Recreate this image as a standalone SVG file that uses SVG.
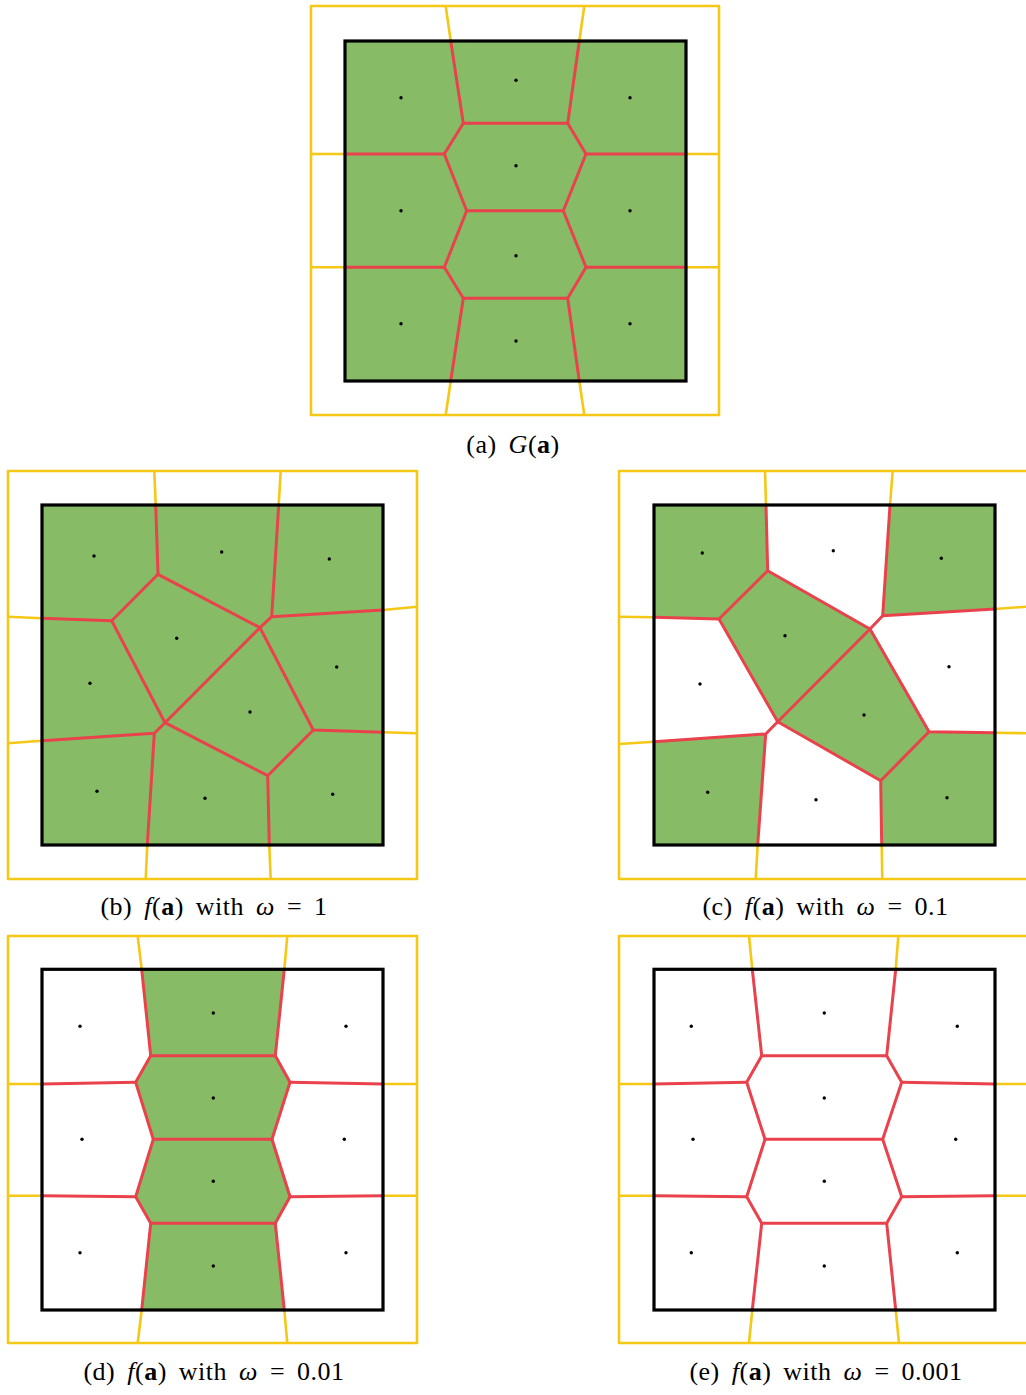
<svg xmlns="http://www.w3.org/2000/svg" width="1026" height="1395" viewBox="0 0 1026 1395">
<style>
.bg{fill:#ffffff}
.y{fill:none;stroke:#F5C816;stroke-width:2.6;stroke-linejoin:round}
.r{fill:none;stroke:#E9424C;stroke-width:3;stroke-linejoin:round;stroke-linecap:round}
.g{fill:#87BB66;stroke:none}
.k{fill:none;stroke:#000000;stroke-width:3.2}
.d{fill:#000000}
.cap{font-family:"Liberation Serif","DejaVu Serif",serif;font-size:26px;fill:#000000;text-anchor:middle;letter-spacing:0.5px;word-spacing:5px}
.it{font-style:italic}
.bf{font-weight:bold}
</style>
<defs>
<circle id="dot" r="1.7" class="d"/>
</defs>
<rect class="bg" x="0" y="0" width="1026" height="1395"/>

<!-- Panel (a) -->
<g id="panel-a">
  <rect class="g" x="345" y="41" width="341" height="340"/>
  <g id="a-boundary" class="y">
    <rect x="311" y="6" width="408" height="409"/>
    <path d="M445.7,6 L450.7,41 M584.3,6 L579.3,41 M311,154 L345,154 M686,154 L719,154 M311,267.3 L345,267.3 M686,267.3 L719,267.3 M450.7,381 L445.7,415 M579.3,381 L584.3,415"/>
  </g>
  <g id="a-edges" class="r">
    <path d="M450.7,41 L463.3,123.3 L567.7,123.3 L579.3,41"/>
    <path d="M463.3,123.3 L444.3,154 L466.7,210.7 L563.3,210.7 L586,154 L567.7,123.3"/>
    <path d="M345,154 L444.3,154 M586,154 L686,154"/>
    <path d="M466.7,210.7 L444.3,267.3 L463.3,298.3 L567.7,298.3 L586,267.3 L563.3,210.7"/>
    <path d="M345,267.3 L444.3,267.3 M586,267.3 L686,267.3"/>
    <path d="M463.3,298.3 L450.7,381 M567.7,298.3 L579.3,381"/>
  </g>
  <rect class="k" x="345" y="41" width="341" height="340"/>
  <g id="a-points">
    <use href="#dot" x="401" y="97.7"/><use href="#dot" x="516" y="80.3"/><use href="#dot" x="630" y="97.7"/>
    <use href="#dot" x="401" y="210.7"/><use href="#dot" x="516" y="165.7"/><use href="#dot" x="630" y="210.7"/>
    <use href="#dot" x="516" y="255.7"/>
    <use href="#dot" x="401" y="323.7"/><use href="#dot" x="516" y="341"/><use href="#dot" x="630" y="323.7"/>
  </g>
  <text class="cap" x="513" y="453">(a) <tspan class="it">G</tspan>(<tspan class="bf">a</tspan>)</text>
</g>

<!-- Panel (b) -->
<g id="panel-b">
  <rect class="g" x="42" y="505" width="341" height="340"/>
  <g id="b-boundary" class="y">
    <rect x="8" y="471" width="409" height="408"/>
    <path d="M154.3,471 L155.7,505 M280.7,471 L278.7,505 M8,616.7 L42,618.3 M383,610 L417,606.7 M383,732.3 L417,733.3 M42,740.7 L8,743.3 M147.3,845 L145.7,879 M269.3,845 L270.7,879"/>
  </g>
  <g id="b-edges" class="r">
    <path d="M155.7,505 L158,574.3 L111.7,620.7 L42,618.3"/>
    <path d="M158,574.3 L260,627.7 L271.7,616.7 L278.7,505"/>
    <path d="M271.7,616.7 L383,610"/>
    <path d="M111.7,620.7 L165,722.7 L260,627.7 L313.3,730 L383,732.3"/>
    <path d="M165,722.7 L154.3,733.3 L42,740.7 M154.3,733.3 L147.3,845"/>
    <path d="M165,722.7 L267.7,775.7 L313.3,730 M267.7,775.7 L269.3,845"/>
  </g>
  <rect class="k" x="42" y="505" width="341" height="340"/>
  <g id="b-points">
    <use href="#dot" x="94" y="556"/><use href="#dot" x="221.7" y="552"/><use href="#dot" x="329.3" y="559"/>
    <use href="#dot" x="176.7" y="638.3"/><use href="#dot" x="90" y="683.3"/><use href="#dot" x="336.7" y="667"/>
    <use href="#dot" x="250" y="712"/>
    <use href="#dot" x="97" y="791.3"/><use href="#dot" x="205" y="798.3"/><use href="#dot" x="332.7" y="794.3"/>
  </g>
  <text class="cap" x="214" y="915">(b) <tspan class="it">f</tspan>(<tspan class="bf">a</tspan>) with <tspan class="it">ω</tspan> = 1</text>
</g>

<!-- Panel (c) -->
<g id="panel-c">
  <g id="c-cells" class="g">
    <polygon points="654,505 766,505 767.7,570.7 719,619 654,617.3"/>
    <polygon points="890,505 995,505 995,609 882.7,615.7"/>
    <polygon points="767.7,570.7 870,629 777.7,721.7 719,619"/>
    <polygon points="870,629 929,731.7 880.7,780.7 777.7,721.7"/>
    <polygon points="654,741.7 765.7,734 757.7,845 654,845"/>
    <polygon points="929,731.7 995,732.7 995,845 881.7,845 880.7,780.7"/>
  </g>
  <g id="c-boundary" class="y">
    <rect x="619" y="471" width="409" height="408"/>
    <path d="M765,471 L766,505 M892.7,471 L890,505 M619,616.7 L654,617.3 M995,609 L1026,606.7 M995,732.7 L1026,733.3 M654,741.7 L619,744 M757.7,845 L755.7,879 M881.7,845 L882.3,879"/>
  </g>
  <g id="c-edges" class="r">
    <path d="M766,505 L767.7,570.7 L719,619 L654,617.3"/>
    <path d="M767.7,570.7 L870,629 L882.7,615.7 L890,505"/>
    <path d="M882.7,615.7 L995,609"/>
    <path d="M719,619 L777.7,721.7 L870,629 L929,731.7 L995,732.7"/>
    <path d="M777.7,721.7 L765.7,734 L654,741.7 M765.7,734 L757.7,845"/>
    <path d="M777.7,721.7 L880.7,780.7 L929,731.7 M880.7,780.7 L881.7,845"/>
  </g>
  <rect class="k" x="654" y="505" width="341" height="340"/>
  <g id="c-points">
    <use href="#dot" x="702.3" y="553"/><use href="#dot" x="833.3" y="550.7"/><use href="#dot" x="941.3" y="558.3"/>
    <use href="#dot" x="785" y="635.7"/><use href="#dot" x="700" y="684"/><use href="#dot" x="949" y="666.7"/>
    <use href="#dot" x="864" y="715"/>
    <use href="#dot" x="707.7" y="792.3"/><use href="#dot" x="816" y="799.7"/><use href="#dot" x="947" y="797.7"/>
  </g>
  <text class="cap" x="825.5" y="915">(c) <tspan class="it">f</tspan>(<tspan class="bf">a</tspan>) with <tspan class="it">ω</tspan> = 0.1</text>
</g>

<!-- Panel (d) -->
<g id="panel-d">
  <polygon class="g" points="141.7,969.3 284.3,969.3 275.3,1055.7 290,1082.3 272,1139.3 290,1196.7 275.3,1223.3 284.3,1310 141.7,1310 150.7,1223.3 135.7,1196.7 153.3,1139.3 135.7,1082.3 150.7,1055.7"/>
  <g id="d-boundary" class="y">
    <rect x="8" y="936" width="409" height="407"/>
    <path d="M137.7,936 L141.7,969.3 M287.3,936 L284.3,969.3 M8,1084 L42,1084 M383,1084 L417,1084 M8,1195.7 L42,1195.7 M383,1195.7 L417,1195.7 M141.7,1310 L137.7,1343 M284.3,1310 L287.3,1343"/>
  </g>
  <g id="d-edges" class="r">
    <path d="M141.7,969.3 L150.7,1055.7 L275.3,1055.7 L284.3,969.3"/>
    <path d="M150.7,1055.7 L135.7,1082.3 L153.3,1139.3 L272,1139.3 L290,1082.3 L275.3,1055.7"/>
    <path d="M42,1084 L135.7,1082.3 M290,1082.3 L383,1084"/>
    <path d="M153.3,1139.3 L135.7,1196.7 L150.7,1223.3 L275.3,1223.3 L290,1196.7 L272,1139.3"/>
    <path d="M42,1195.7 L135.7,1196.7 M290,1196.7 L383,1195.7"/>
    <path d="M150.7,1223.3 L141.7,1310 M275.3,1223.3 L284.3,1310"/>
  </g>
  <rect class="k" x="42" y="969.3" width="341" height="340.7"/>
  <g id="d-points">
    <use href="#dot" x="80" y="1026.3"/><use href="#dot" x="213.3" y="1013"/><use href="#dot" x="346" y="1026.3"/>
    <use href="#dot" x="213.3" y="1098"/><use href="#dot" x="82" y="1139.3"/><use href="#dot" x="344.3" y="1139.3"/>
    <use href="#dot" x="213.3" y="1181.3"/>
    <use href="#dot" x="80" y="1252.7"/><use href="#dot" x="213.3" y="1266"/><use href="#dot" x="346" y="1252.7"/>
  </g>
  <text class="cap" x="214" y="1380">(d) <tspan class="it">f</tspan>(<tspan class="bf">a</tspan>) with <tspan class="it">ω</tspan> = 0.01</text>
</g>

<!-- Panel (e) -->
<g id="panel-e">
  <g id="e-boundary" class="y">
    <rect x="619" y="936" width="409" height="407"/>
    <path d="M749,936 L752.3,969.3 M898.3,936 L895.7,969.3 M619,1084 L654,1084 M995,1084 L1026,1084 M619,1195.7 L654,1195.7 M995,1195.7 L1026,1195.7 M752.3,1310 L749,1343 M895.7,1310 L899,1343"/>
  </g>
  <g id="e-edges" class="r">
    <path d="M752.3,969.3 L761.7,1055.7 L886.7,1055.7 L895.7,969.3"/>
    <path d="M761.7,1055.7 L746.7,1082.3 L765,1139.3 L882.7,1139.3 L901.7,1082.3 L886.7,1055.7"/>
    <path d="M654,1084 L746.7,1082.3 M901.7,1082.3 L995,1084"/>
    <path d="M765,1139.3 L746.7,1196.7 L761.7,1223.3 L886.7,1223.3 L901.7,1196.7 L882.7,1139.3"/>
    <path d="M654,1195.7 L746.7,1196.7 M901.7,1196.7 L995,1195.7"/>
    <path d="M761.7,1223.3 L752.3,1310 M886.7,1223.3 L895.7,1310"/>
  </g>
  <rect class="k" x="654" y="969.3" width="341" height="340.7"/>
  <g id="e-points">
    <use href="#dot" x="691.3" y="1026.3"/><use href="#dot" x="824.3" y="1013"/><use href="#dot" x="957.3" y="1026.3"/>
    <use href="#dot" x="824.3" y="1098"/><use href="#dot" x="693" y="1139.3"/><use href="#dot" x="955.7" y="1139.3"/>
    <use href="#dot" x="824.3" y="1181.3"/>
    <use href="#dot" x="691.3" y="1252.7"/><use href="#dot" x="824.3" y="1266"/><use href="#dot" x="957.3" y="1252.7"/>
  </g>
  <text class="cap" x="826" y="1380">(e) <tspan class="it">f</tspan>(<tspan class="bf">a</tspan>) with <tspan class="it">ω</tspan> = 0.001</text>
</g>
</svg>
